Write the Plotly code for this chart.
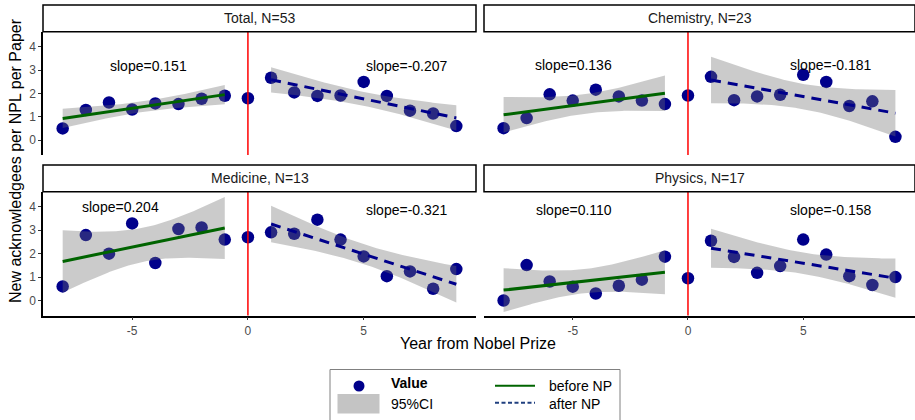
import numpy as np
import plotly.graph_objects as go

# ---------------- data ----------------
years = [-8, -7, -6, -5, -4, -3, -2, -1, 0, 1, 2, 3, 4, 5, 6, 7, 8, 9]

panels = ["Total, N=53", "Chemistry, N=23", "Medicine, N=13", "Physics, N=17"]

total_vals = [0.50, 1.29, 1.61, 1.31, 1.57, 1.54, 1.77, 1.90, 1.79,
              2.67, 2.04, 1.89, 1.91, 2.49, 1.89, 1.26, 1.14, 0.60]
chemistry_vals = [0.51, 0.94, 1.96, 1.69, 2.16, 1.87, 1.69, 1.54, 1.91,
                  2.71, 1.71, 1.87, 1.94, 2.80, 2.49, 1.46, 1.66, 0.14]
medicine_vals = [0.60, 2.79, 2.00, 3.29, 1.60, 3.05, 3.12, 2.60, 2.70,
                 2.91, 2.85, 3.45, 2.60, 1.88, 1.04, 1.24, 0.50, 1.34]
physics_vals = [0.00, 1.51, 0.81, 0.59, 0.30, 0.63, 0.89, 1.87, 0.95,
                2.55, 1.86, 1.18, 1.47, 2.60, 1.96, 1.04, 0.66, 1.00]

slope_before_labels = ["slope=0.151", "slope=0.136", "slope=0.204", "slope=0.110"]
slope_after_labels = ["slope=-0.207", "slope=-0.181", "slope=-0.321", "slope=-0.158"]

x_ticks = [-5, 0, 5]
x_tick_labels = ["-5", "0", "5"]
y_ticks = [0, 1, 2, 3, 4]
y_tick_labels = ["0", "1", "2", "3", "4"]

# ---------------- styling / layout config ----------------
W, H = 915, 420
FONT = "Liberation Sans, Arial, sans-serif"
PT_COLOR = "#00008B"
GREEN = "#006400"
RIBBON = "rgba(112,112,112,0.36)"

# label positions (data coords) per panel: (x_before, y_before, x_after, y_after)
label_pos = [(-4.3, 3.17, 6.85, 3.17), (-4.95, 3.2, 6.2, 3.2),
             (-5.5, 4.0, 6.85, 3.86), (-4.95, 3.88, 6.2, 3.88)]

# pixel boxes: (left, right, top, bottom) of plot areas
col_px = [(43, 476), (484, 915)]
row_px = [(32, 155), (192, 315.5)]
strip_px = [(5, 31.7), (165, 191.7)]

XR = [-8.85, 9.85]
YR = [-0.64, 4.63]

T975 = {6: 2.446912, 7: 2.364624}  # Student t 0.975 quantiles


def px(x):
    return x / W


def py(y):
    return 1 - y / H


def fit(xs, ys):
    xs = np.asarray(xs, float)
    ys = np.asarray(ys, float)
    n = len(xs)
    b, a = np.polyfit(xs, ys, 1)
    res = ys - (a + b * xs)
    s = np.sqrt(np.sum(res ** 2) / (n - 2))
    sxx = np.sum((xs - xs.mean()) ** 2)
    grid = np.linspace(xs.min(), xs.max(), 80)
    yhat = a + b * grid
    se = s * np.sqrt(1 / n + (grid - xs.mean()) ** 2 / sxx)
    t = T975[n - 2]
    return grid, yhat, yhat - t * se, yhat + t * se


fig = go.Figure()
all_vals = [total_vals, chemistry_vals, medicine_vals, physics_vals]
shapes = []
annotations = []

for i, (name, vals) in enumerate(zip(panels, all_vals)):
    r, c = divmod(i, 2)
    sfx = "" if i == 0 else str(i + 1)
    xa, ya = "x" + sfx, "y" + sfx
    # points first (ribbon drawn on top, as in reference)
    fig.add_trace(go.Scatter(x=years, y=vals, mode="markers", xaxis=xa, yaxis=ya,
                             marker=dict(color=PT_COLOR, size=12.5, line=dict(width=0)),
                             showlegend=False, hoverinfo="skip"))
    yrs = np.array(years)
    v = np.array(vals)
    for sel, col, dash in [(yrs < 0, GREEN, "solid"), (yrs > 0, PT_COLOR, "10px,7px")]:
        g, yh, lo, hi = fit(yrs[sel], v[sel])
        fig.add_trace(go.Scatter(x=np.concatenate([g, g[::-1]]), y=np.concatenate([hi, lo[::-1]]),
                                 mode="lines", fill="toself", fillcolor=RIBBON,
                                 line=dict(width=0), xaxis=xa, yaxis=ya,
                                 showlegend=False, hoverinfo="skip"))
        fig.add_trace(go.Scatter(x=[g[0], g[-1]], y=[yh[0], yh[-1]], mode="lines",
                                 line=dict(color=col, width=3, dash=dash),
                                 xaxis=xa, yaxis=ya, showlegend=False, hoverinfo="skip"))
    # red vertical line at 0
    shapes.append(dict(type="line", xref=xa, yref=ya + " domain", x0=0, x1=0, y0=0, y1=1,
                       line=dict(color="#FF0000", width=1.5), layer="above"))
    # strip
    l, rr = col_px[c]
    st, sb = strip_px[r]
    shapes.append(dict(type="rect", xref="paper", yref="paper", x0=px(l), x1=px(rr),
                       y0=py(sb), y1=py(st), line=dict(color="black", width=1.5),
                       fillcolor="white"))
    annotations.append(dict(xref="paper", yref="paper", x=px((l + rr) / 2), y=py((st + sb) / 2),
                            text=name, showarrow=False, xanchor="center", yanchor="middle",
                            font=dict(family=FONT, size=14, color="#1a1a1a")))
    xb, yb, xaf, yaf = label_pos[i]
    annotations.append(dict(xref=xa, yref=ya, x=xb, y=yb, text=slope_before_labels[i],
                            showarrow=False, font=dict(family=FONT, size=14, color="black")))
    annotations.append(dict(xref=xa, yref=ya, x=xaf, y=yaf, text=slope_after_labels[i],
                            showarrow=False, font=dict(family=FONT, size=14, color="black")))

    # axes
    t, b = row_px[r]
    xdict = dict(domain=[px(l), px(rr)], range=XR, anchor=ya, showgrid=False, zeroline=False,
                 tickmode="array", tickvals=x_ticks, ticktext=x_tick_labels,
                 ticks="outside" if r == 1 else "", ticklen=3,
                 tickcolor="#333333", showticklabels=(r == 1), showline=(r == 1),
                 linecolor="black", linewidth=1.5,
                 tickfont=dict(family=FONT, size=12, color="#4d4d4d"))
    ydict = dict(domain=[py(b), py(t)], range=YR, anchor=xa, showgrid=False, zeroline=False,
                 tickmode="array", tickvals=y_ticks, ticktext=y_tick_labels,
                 ticks="outside" if c == 0 else "", ticklen=3,
                 tickcolor="#333333", showticklabels=(c == 0), showline=(c == 0),
                 linecolor="black", linewidth=1.5,
                 tickfont=dict(family=FONT, size=12, color="#4d4d4d"))
    fig.update_layout(**{"xaxis" + sfx: xdict, "yaxis" + sfx: ydict})

# axis titles
annotations.append(dict(xref="paper", yref="paper", x=px(478), y=py(343), text="Year from Nobel Prize",
                        showarrow=False, xanchor="center", yanchor="middle",
                        font=dict(family=FONT, size=16, color="black")))
annotations.append(dict(xref="paper", yref="paper", x=px(15), y=py(161),
                        text="New acknowledgees per NPL per Paper", textangle=-90,
                        showarrow=False, xanchor="center", yanchor="middle",
                        font=dict(family=FONT, size=16, color="black")))

# legend (manual)
shapes.append(dict(type="rect", xref="paper", yref="paper", x0=px(330), x1=px(620),
                   y0=py(425), y1=py(369.5), line=dict(color="#808080", width=1),
                   fillcolor="white"))
shapes.append(dict(type="circle", xref="paper", yref="paper", x0=px(353.5), x1=px(364.5),
                   y0=py(391.5), y1=py(380.5), line=dict(width=0), fillcolor=PT_COLOR))
shapes.append(dict(type="rect", xref="paper", yref="paper", x0=px(337.5), x1=px(379.5),
                   y0=py(413.5), y1=py(394), line=dict(width=0), fillcolor="#c4c4c4"))
shapes.append(dict(type="line", xref="paper", yref="paper", x0=px(495), x1=px(535),
                   y0=py(385.7), y1=py(385.7), line=dict(color=GREEN, width=2)))
shapes.append(dict(type="line", xref="paper", yref="paper", x0=px(495), x1=px(535),
                   y0=py(402.7), y1=py(402.7), line=dict(color="#1f3f7f", width=2, dash="4px,2.5px")))
for txt, x, y, bold in [("Value", 389, 383, True), ("95%CI", 389, 403.5, False),
                        ("before NP", 546.5, 386, False), ("after NP", 546.5, 403.5, False)]:
    annotations.append(dict(xref="paper", yref="paper", x=px(x), y=py(y),
                            text=f"<b>{txt}</b>" if bold else txt, showarrow=False,
                            xanchor="left", yanchor="middle",
                            font=dict(family=FONT, size=14, color="black")))

fig.update_layout(width=W, height=H, margin=dict(l=0, r=0, t=0, b=0),
                  paper_bgcolor="white", plot_bgcolor="white",
                  shapes=shapes, annotations=annotations, showlegend=False)

fig.write_html("out.html")
